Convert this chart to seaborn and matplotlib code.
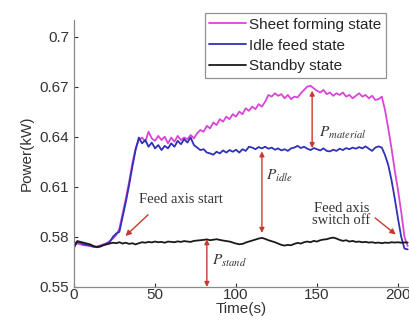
import matplotlib
matplotlib.use('Agg')
import matplotlib.pyplot as plt
import seaborn as sns
import pandas as pd

# tempo (s)
time = [0, 2, 4, 6, 8, 10, 12, 14, 16, 18, 20, 22, 24, 26, 28, 30, 32, 34, 36, 38,
        40, 42, 44, 46, 48, 50, 52, 54, 56, 58, 60, 62, 64, 66, 68, 70, 72, 74, 76, 78,
        80, 82, 84, 86, 88, 90, 92, 94, 96, 98, 100, 102, 104, 106, 108, 110, 112, 114, 116, 118,
        120, 122, 124, 126, 128, 130, 132, 134, 136, 138, 140, 142, 144, 146, 148, 150, 152, 154, 156, 158,
        160, 162, 164, 166, 168, 170, 172, 174, 176, 178, 180, 182, 184, 186, 188, 190, 192, 194, 196, 198,
        200, 202, 204, 206]

sheet = [0.5755, 0.5760, 0.5755, 0.5750, 0.5748, 0.5745, 0.5740, 0.5742, 0.5748, 0.5755,
         0.5762, 0.5775, 0.5790, 0.5810, 0.5850, 0.5940, 0.6030, 0.6130, 0.6240, 0.6330,
         0.6380, 0.6395, 0.6370, 0.6430, 0.6390, 0.6375, 0.6405, 0.6380, 0.6400, 0.6360,
         0.6395, 0.6370, 0.6405, 0.6380, 0.6395, 0.6385, 0.6410, 0.6390, 0.6420, 0.6440,
         0.6430, 0.6465, 0.6450, 0.6485, 0.6470, 0.6505, 0.6490, 0.6520, 0.6505, 0.6535,
         0.6520, 0.6550, 0.6535, 0.6570, 0.6555, 0.6580, 0.6565, 0.6595, 0.6580, 0.6610,
         0.6650, 0.6640, 0.6660, 0.6645, 0.6655, 0.6630, 0.6650, 0.6625, 0.6640, 0.6635,
         0.6660, 0.6680, 0.6700, 0.6705, 0.6690, 0.6675, 0.6665, 0.6680, 0.6655, 0.6665,
         0.6645, 0.6660, 0.6650, 0.6665, 0.6640, 0.6650, 0.6630, 0.6645, 0.6660, 0.6640,
         0.6650, 0.6630, 0.6645, 0.6620, 0.6625, 0.6640, 0.6560, 0.6450, 0.6330, 0.6200,
         0.6080, 0.5950, 0.5800, 0.5745]

idle = [0.5760, 0.5770, 0.5765, 0.5755, 0.5752, 0.5748, 0.5742, 0.5738, 0.5742, 0.5750,
        0.5758, 0.5768, 0.5800, 0.5820, 0.5830, 0.5920, 0.6010, 0.6110, 0.6220, 0.6320,
        0.6395, 0.6360, 0.6380, 0.6340, 0.6365, 0.6330, 0.6350, 0.6320, 0.6345, 0.6330,
        0.6360, 0.6340, 0.6375, 0.6355, 0.6385, 0.6365, 0.6395, 0.6350, 0.6335, 0.6320,
        0.6325, 0.6305, 0.6300, 0.6292, 0.6310, 0.6300, 0.6318, 0.6305, 0.6320, 0.6310,
        0.6322, 0.6305, 0.6325, 0.6315, 0.6340, 0.6335, 0.6325, 0.6338, 0.6330, 0.6340,
        0.6328, 0.6335, 0.6322, 0.6330, 0.6318, 0.6325, 0.6315, 0.6330, 0.6335, 0.6345,
        0.6332, 0.6340, 0.6328, 0.6320, 0.6332, 0.6325, 0.6318, 0.6330, 0.6315, 0.6312,
        0.6322, 0.6315, 0.6328, 0.6320, 0.6332, 0.6325, 0.6335, 0.6328, 0.6338, 0.6330,
        0.6342, 0.6328, 0.6315, 0.6335, 0.6342, 0.6335, 0.6290, 0.6230, 0.6140, 0.6030,
        0.5910, 0.5800, 0.5730, 0.5725]

standby = [0.5735, 0.5775, 0.5770, 0.5765, 0.5760, 0.5755, 0.5745, 0.5740, 0.5742, 0.5750,
           0.5755, 0.5760, 0.5765, 0.5762, 0.5768, 0.5760, 0.5765, 0.5758, 0.5762, 0.5755,
           0.5762, 0.5768, 0.5765, 0.5770, 0.5767, 0.5772, 0.5768, 0.5770, 0.5765, 0.5772,
           0.5770, 0.5768, 0.5773, 0.5770, 0.5775, 0.5772, 0.5770, 0.5776, 0.5778, 0.5780,
           0.5782, 0.5785, 0.5780, 0.5783, 0.5786, 0.5782, 0.5778, 0.5775, 0.5772, 0.5766,
           0.5760, 0.5756, 0.5758, 0.5766, 0.5772, 0.5778, 0.5784, 0.5790, 0.5794, 0.5788,
           0.5780, 0.5774, 0.5768, 0.5760, 0.5752, 0.5748, 0.5752, 0.5750, 0.5758, 0.5764,
           0.5760, 0.5768, 0.5772, 0.5768, 0.5776, 0.5772, 0.5780, 0.5784, 0.5786, 0.5792,
           0.5796, 0.5790, 0.5782, 0.5776, 0.5780, 0.5772, 0.5776, 0.5770, 0.5772, 0.5768,
           0.5770, 0.5766, 0.5768, 0.5764, 0.5766, 0.5762, 0.5766, 0.5764, 0.5768, 0.5766,
           0.5768, 0.5765, 0.5767, 0.5766]

labels = ['Sheet forming state', 'Idle feed state', 'Standby state']
colors = ['#d845d8', '#3030b8', '#1a1a1a']
yticks = [0.55, 0.58, 0.61, 0.64, 0.67, 0.7]
xticks = [0, 50, 100, 150, 200]

sns.set_style('ticks')
plt.rcParams['font.family'] = ['Liberation Sans', 'DejaVu Sans']
plt.rcParams['mathtext.fontset'] = 'stix'

df = pd.DataFrame({'tempo': time * 3,
                   'potencia': sheet + idle + standby,
                   'estado': [labels[0]] * len(time) + [labels[1]] * len(time) + [labels[2]] * len(time)})

fig = plt.figure(figsize=(4.09, 3.25), dpi=100)
ax = fig.add_axes([0.181, 0.117, 0.819, 0.822])
sns.lineplot(data=df, x='tempo', y='potencia', hue='estado', hue_order=labels,
             palette=colors, linewidth=1.3, ax=ax)

ax.set_xlim(0, 206.8)
ax.set_ylim(0.55, 0.71)
ax.set_xticks(xticks)
ax.set_xticklabels([str(v) for v in xticks])
ax.set_yticks(yticks)
ax.set_yticklabels(['0.55', '0.58', '0.61', '0.64', '0.67', '0.7'])
ax.tick_params(direction='in', length=3, labelsize=11, colors='#333333', width=0.8)
ax.tick_params(axis='x', pad=1)
ax.set_xlabel('Time(s)', fontsize=11, color='#333333', labelpad=0)
ax.set_ylabel('Power(kW)', fontsize=11, color='#333333', labelpad=4)
for s in ['top', 'right']:
    ax.spines[s].set_visible(False)
for s in ['left', 'bottom']:
    ax.spines[s].set_color('#888888')
    ax.spines[s].set_linewidth(0.9)

leg = ax.legend(loc='upper left', bbox_to_anchor=(0.39, 1.025), fontsize=11, frameon=True,
                fancybox=False, edgecolor='#777777', handlelength=2.4, handletextpad=0.2,
                borderpad=0.3, labelspacing=0.45, borderaxespad=0)
leg.get_frame().set_linewidth(0.9)

# anotações
seta = '#c83a2e'
serif = {'family': ['Liberation Serif', 'DejaVu Serif'], 'color': '#333333', 'fontsize': 10.5}
ax.annotate('', xy=(30.5, 0.5794), xytext=(47, 0.5944),
            arrowprops=dict(arrowstyle='-|>', color=seta, lw=1.0, mutation_scale=8))
ax.text(66, 0.6025, 'Feed axis start', ha='center', va='center', fontdict=serif)
ax.annotate('', xy=(200, 0.5804), xytext=(184.5, 0.5924),
            arrowprops=dict(arrowstyle='-|>', color=seta, lw=1.0, mutation_scale=8))
ax.text(165, 0.5935, 'Feed axis\nswitch off', ha='center', va='center', linespacing=0.9, fontdict=serif)

for x0, y0, y1 in [(147, 0.6332, 0.6676), (116, 0.5824, 0.6312), (82, 0.5500, 0.5786)]:
    ax.annotate('', xy=(x0, y0), xytext=(x0, y1),
                arrowprops=dict(arrowstyle='<|-|>', color=seta, lw=1.0, mutation_scale=7,
                                shrinkA=0, shrinkB=0))

ax.text(151, 0.6425, r'$P_{material}$', fontsize=11, color='#333333', va='center')
ax.text(118.5, 0.6165, r'$P_{idle}$', fontsize=11, color='#333333', va='center')
ax.text(85, 0.5655, r'$P_{stand}$', fontsize=11, color='#333333', va='center')

plt.savefig('out.png', dpi=100)
